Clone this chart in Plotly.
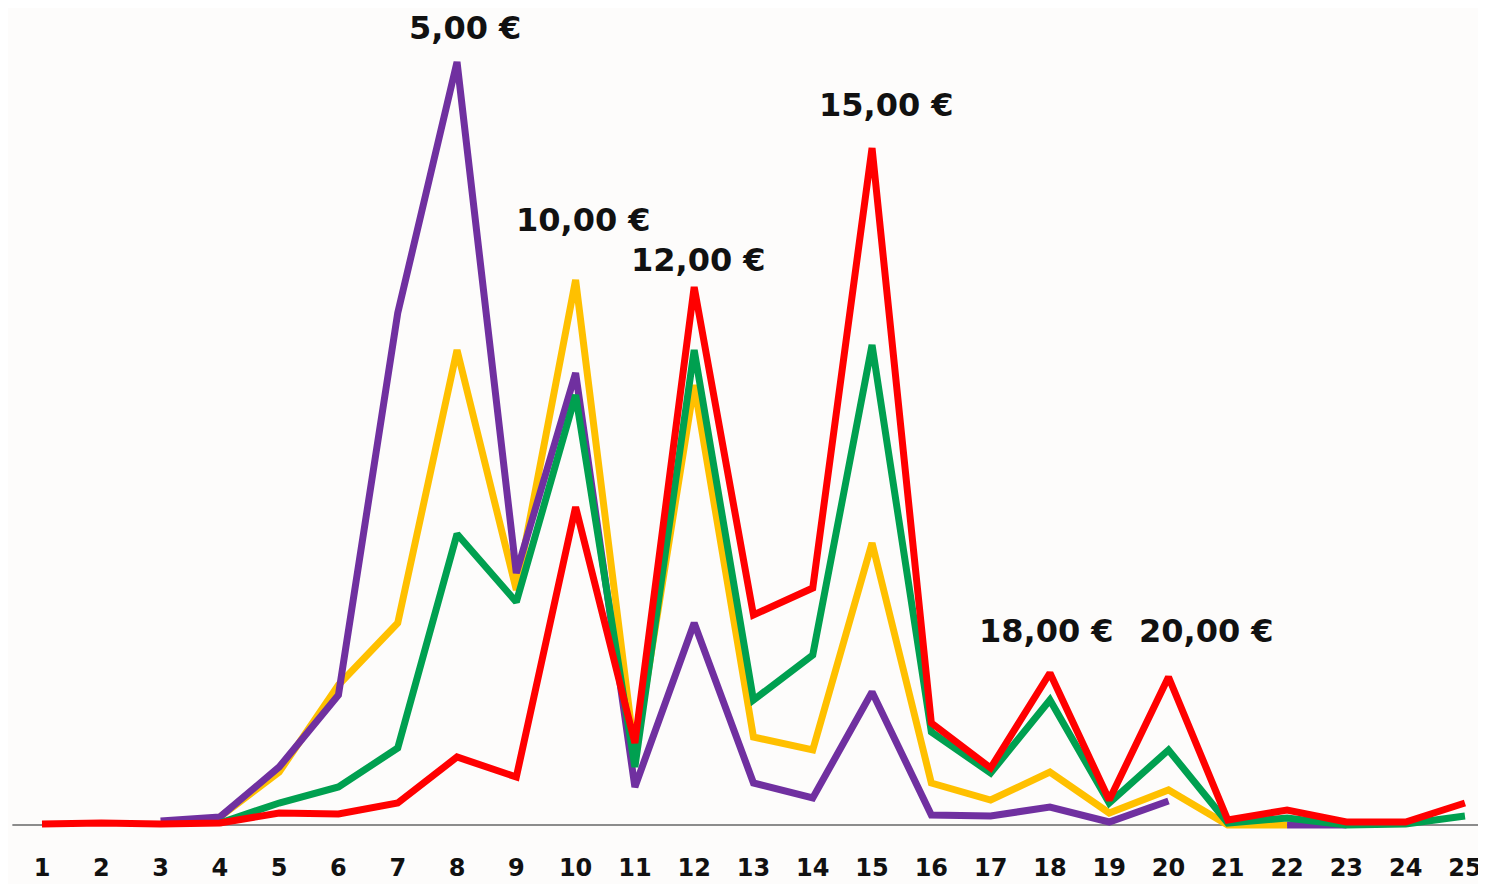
import plotly.graph_objects as go

categories = list(range(1, 26))

purple = [None, None, 0.4, 0.8, 5.8, 13.0, 51.2, 76.3, 25.2, 45.2, 3.8, 20.2, 4.2, 2.7,
          13.3, 1.0, 0.9, 1.8, 0.3, 2.4, None, 0.0, 0.0, None, None]
yellow = [None, None, None, 0.8, 5.3, 14.0, 20.2, 47.5, 23.5, 54.5, 7.0, 44.0, 8.8, 7.5,
          28.2, 4.2, 2.5, 5.3, 1.2, 3.5, 0.0, 0.0, None, None, None]
green = [None, None, None, 0.2, 2.2, 3.8, 7.7, 29.1, 22.3, 43.0, 5.8, 47.5, 12.5, 17.0,
         48.0, 9.3, 5.2, 12.5, 2.2, 7.5, 0.2, 0.7, 0.0, 0.1, 0.9]
red = [0.1, 0.2, 0.1, 0.2, 1.2, 1.1, 2.2, 6.8, 4.8, 31.8, 8.2, 53.8, 21.0, 23.7,
       67.7, 10.2, 5.7, 15.2, 2.5, 14.8, 0.5, 1.5, 0.3, 0.3, 2.2]

label_x = [8, 10, 12, 15, 18, 20]
label_y = [79.7, 60.5, 56.5, 72.0, 19.4, 19.4]
label_text = ["5,00 €", "10,00 €", "12,00 €", "15,00 €", "18,00 €", "20,00 €"]
label_shift = [8, 8, 4, 14, -3, 38]

series = [
    ("yellow", yellow, "#ffc000"),
    ("purple", purple, "#7030a0"),
    ("green", green, "#00a050"),
    ("red", red, "#ff0000"),
]

FONT = "DejaVu Sans"
BG = "#fdfcfb"

fig = go.Figure()
for name, vals, col in series:
    fig.add_trace(go.Scatter(
        x=categories, y=vals, mode="lines", name=name,
        line=dict(color=col, width=7), connectgaps=False,
        hoverinfo="skip",
    ))

fig.add_shape(type="line", x0=0.5, x1=25.6, y0=0, y1=0, xref="x", yref="y",
              line=dict(color="#8c8c8c", width=2), layer="below")

for x, y, t, s in zip(label_x, label_y, label_text, label_shift):
    fig.add_annotation(x=x, y=y, text="<b>" + t + "</b>", showarrow=False,
                       xshift=s, font=dict(family=FONT, size=32, color="#111111"))

fig.update_layout(
    width=1478, height=876,
    margin=dict(l=0, r=0, t=0, b=39, autoexpand=False),
    paper_bgcolor=BG, plot_bgcolor=BG,
    showlegend=False,
    xaxis=dict(range=[0.4266, 25.355], tickvals=categories,
               ticktext=["<b>%d</b>" % c for c in categories],
               showgrid=False, zeroline=False, showline=False, ticks="",
               tickfont=dict(family=FONT, size=24, color="#111111"),
               ticklabelstandoff=6, automargin=False),
    yaxis=dict(range=[-2.0, 81.7], visible=False, showgrid=False, zeroline=False,
               automargin=False),
)

fig.write_html("out.html")
